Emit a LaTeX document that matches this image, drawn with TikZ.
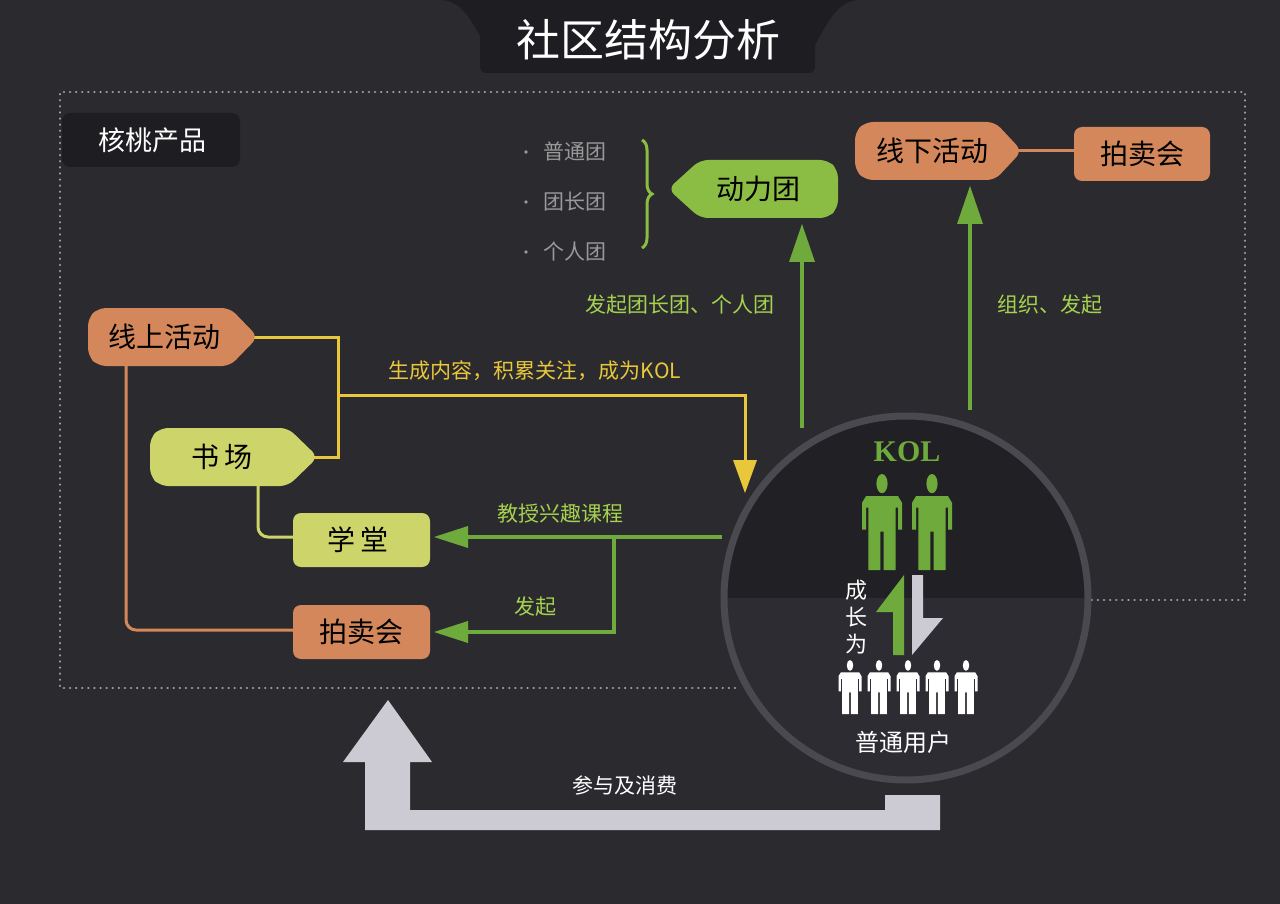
\documentclass[tikz,border=0pt]{standalone}
\usepackage{fontspec}
\setmainfont{Noto Sans CJK SC}
\newfontfamily\serifkol{Liberation Serif}
\usetikzlibrary{decorations.pathreplacing,arrows.meta}
\definecolor{bg}{HTML}{2B2A2F}
\definecolor{dark}{HTML}{1E1D21}
\definecolor{ctop}{HTML}{212024}
\definecolor{cbot}{HTML}{2E2C33}
\definecolor{ring}{HTML}{4A494F}
\definecolor{org}{HTML}{D4875B}
\definecolor{yg}{HTML}{CDD46A}
\definecolor{grn}{HTML}{8BBD45}
\definecolor{lgrn}{HTML}{6EAA3C}
\definecolor{ltxt}{HTML}{A5D24E}
\definecolor{ylw}{HTML}{E8C83A}
\definecolor{gry}{HTML}{CCCBD3}
\newcommand{\fs}[1]{\fontsize{#1}{#1}\selectfont}
\tikzset{
 box/.style={rounded corners=8pt},
 lbl/.style={font=\fs{28}, text=black},
 glab/.style={font=\fs{21}, text=ltxt},
 ylab/.style={font=\fs{21}, text=ylw},
 yl/.style={ylw, line width=3pt},
 gl/.style={lgrn, line width=4pt},
 pers/.pic={
  \fill (0,0.1) ellipse (0.14 and 0.1);
  \fill[rounded corners=0.05] (-0.5,0.58)--(-0.5,0.3)--(-0.4,0.23)--(0.4,0.23)--(0.5,0.3)--(0.5,0.58)--(0.4,0.58)--(0.4,0.35)--(0.34,0.35)--(0.34,1)--(0.04,1)--(0.04,0.6)--(-0.04,0.6)--(-0.04,1)--(-0.34,1)--(-0.34,0.35)--(-0.4,0.35)--(-0.4,0.58)--cycle;
 }
}
\begin{document}
\begin{tikzpicture}[x=1pt,y=-1pt]
\fill[bg] (0,0) rectangle (1280,904);
\useasboundingbox (0,0) rectangle (1280,904);
% title
\fill[dark] (440,0) .. controls (480,0) and (480,72) .. (520,72) -- (780,72) .. controls (820,72) and (820,0) .. (860,0) -- cycle;
\fill[dark,rounded corners=6pt] (480,-10) rectangle (815,73);
\node[font=\fs{44},text=white] (title) at (648,40) {社区结构分析};
% dotted frame
\draw[gray!70, line width=2.5pt, dash pattern=on 0.1pt off 6pt, line cap=round] (735,688)--(60,688)--(60,92)--(1245,92)--(1245,600)--(1090,600);
% product box
\fill[dark,box] (62,113) rectangle (240,167);
\node[font=\fs{27},text=white] (prod) at (152,140) {核桃产品};
% connectors
\draw[org, line width=3pt, rounded corners=10pt] (126,366)--(126,630)--(293,630);
\draw[yg, line width=3pt, rounded corners=10pt] (258,486)--(258,537)--(293,537);
\draw[yl] (250,337)--(338,337)--(338,457)--(310,457);
\draw[yl] (338,395)--(745,395)--(745,462);
\fill[ylw] (733,460)--(757,460)--(745,493)--cycle;
\draw[gl] (722,537)--(460,537);
\fill[lgrn] (468,526)--(468,548)--(434,537)--cycle;
\draw[gl] (614,537)--(614,632)--(460,632);
\fill[lgrn] (468,621)--(468,643)--(434,632)--cycle;
\draw[gl] (802,428)--(802,260);
\fill[lgrn] (789,262)--(815,262)--(802,224)--cycle;
\draw[gl] (970,410)--(970,222);
\fill[lgrn] (957,224)--(983,224)--(970,186)--cycle;
\draw[org, line width=3pt] (1015,151)--(1080,151);
% boxes
\fill[org,rounded corners=8pt] (98,308)--(230,308)--(258,337)--(230,366)--(98,366)--(88,356)--(88,318)--cycle;
\node[lbl] (online) at (164,337) {线上活动};
\fill[yg,rounded corners=8pt] (160,428)--(288,428)--(318,457)--(288,486)--(160,486)--(150,476)--(150,438)--cycle;
\node[lbl] (shuc) at (222,457) {书\,场};
\fill[yg,box] (293,513) rectangle (430,567);
\node[lbl] (xuet) at (358,540) {学\,堂};
\fill[org,box] (293,605) rectangle (430,659);
\node[lbl] (pm1) at (361,632) {拍卖会};
\fill[grn,rounded corners=8pt] (700,160)--(828,160)--(838,170)--(838,208)--(828,218)--(700,218)--(668,189)--cycle;
\node[lbl] (dlt) at (758,189) {动力团};
\fill[org,rounded corners=8pt] (865,122)--(995,122)--(1022,151)--(995,180)--(865,180)--(855,170)--(855,132)--cycle;
\node[lbl] (offline) at (932,151) {线下活动};
\fill[org,box] (1074,127) rectangle (1210,181);
\node[lbl] (pm2) at (1142,154) {拍卖会};
% labels
\node[ylab] (l1) at (535,371) {生成内容，积累关注，成为KOL};
\node[glab] (l2) at (560,514) {教授兴趣课程};
\node[glab] (l3) at (535,607) {发起};
\node[glab] (l4) at (680,305) {发起团长团、个人团};
\node[glab] (l5) at (1050,305) {组织、发起};
% list
\foreach \y/\t in {152/普通团,202/团长团,252/个人团}{
 \fill[gray!80] (526,\y) circle (1.8);
 \node[font=\fs{21},text=gray!80,anchor=west] at (540,\y) {\t};
}
\draw[grn, line width=3pt, decorate, decoration={brace, amplitude=10pt}] (642,140)--(642,248);
% big gray arrow
\fill[gry] (365,830)--(940,830)--(940,795)--(885,795)--(885,810)--(410,810)--(410,762)--(432,762)--(388,700)--(343,762)--(365,762)--cycle;
\node[font=\fs{21},text=white] (cons) at (625,785) {参与及消费};
% circle
\begin{scope}
\clip (906,598) circle (182);
\fill[ctop] (700,400) rectangle (1100,598);
\fill[cbot] (700,598) rectangle (1100,800);
\end{scope}
\draw[ring, line width=7pt] (906,598) circle (182);
\node[text=lgrn] (kol) at (907,452) {\serifkol\bfseries\fs{30}KOL};
\foreach \x in {882,932} \pic[lgrn,xscale=40,yscale=96] at (\x,474) {pers};
\foreach \x in {850,879,908,937,966} \pic[white,xscale=23,yscale=54] at (\x,660) {pers};
\fill[lgrn] (893,655)--(904,655)--(904,575)--(876,612)--(893,612)--cycle;
\fill[gry] (912,575)--(923,575)--(923,618)--(943,618)--(912,655)--cycle;
\node[font=\fs{22},text=white] (g1) at (856,590) {成};
\node[font=\fs{22},text=white] (g2) at (856,617) {长};
\node[font=\fs{22},text=white] (g3) at (856,644) {为};
\node[font=\fs{24},text=white] (users) at (903,742) {普通用户};
\end{tikzpicture}
\end{document}
